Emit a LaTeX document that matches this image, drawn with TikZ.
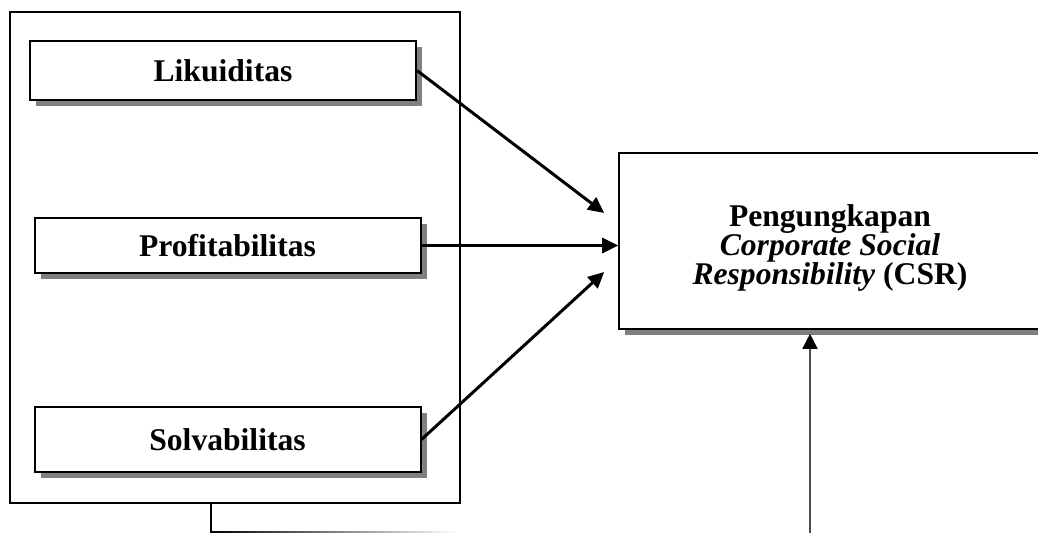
\documentclass[tikz,border=0pt]{standalone}
\usepackage{fontspec}
\setmainfont{Liberation Serif}
\usetikzlibrary{positioning, arrows.meta, fit, calc, shadows}
\newcommand{\csrfont}{\fontsize{15.8}{14.3}\selectfont\bfseries\lineskiplimit=-10pt\relax}

\begin{document}
\begin{tikzpicture}[
    x=0.5pt, y=-0.5pt,
    boxshadow/.style={drop shadow={shadow xshift=3pt, shadow yshift=-3pt, fill=black!50, opacity=1}},
    varbox/.style={rectangle, draw=black, line width=1pt, fill=white, minimum width=193pt, inner sep=0pt, font=\fontsize{15.8}{18}\selectfont\bfseries, boxshadow},
    depbox/.style={rectangle, draw=black, line width=0.8pt, fill=white, minimum width=211pt, minimum height=88pt, inner sep=0pt, boxshadow},
    csrtext/.style={align=center, font=\csrfont, inner sep=0pt},
    outerbox/.style={rectangle, draw=black, line width=0.8pt, inner sep=0pt},
    arrow/.style={-{Triangle[length=8pt,width=7.5pt]}, line width=1.5pt},
    thinarrow/.style={-{Triangle[length=7.5pt,width=7.5pt,color=black]}, draw=black!70, line width=0.75pt}
]
\useasboundingbox (0,0) rectangle (1038,533);

% Independent variables
\node[outerbox, fit={(10,12) (460,503)}] (grp) {};
\node[varbox, minimum height=29.5pt] (lik) at (223,70.5) {Likuiditas};
\node[varbox, minimum height=27.5pt, below=58pt of lik, xshift=2.25pt] (prof) {Profitabilitas};
\node[varbox, minimum height=32.5pt, below=66pt of prof] (solv) {Solvabilitas};

% Dependent variable
\node[depbox, label={[csrtext, yshift=-3.5pt]center:Pengungkapan\\\textit{Corporate Social}\\\textit{Responsibility} (CSR)}] (csr) at (830,241) {};

% Partial effects
\coordinate (inL) at ($(csr.west)+(-7pt,14pt)$);
\coordinate (inS) at ($(csr.west)+(-7pt,-15.5pt)$);
\draw[arrow] (lik.east) -- (inL);
\draw[arrow] (prof.east) -- (prof.east -| csr.west);
\draw[arrow] (solv.east) -- (inS);

% Simultaneous effect
\coordinate (tap) at ($(grp.south west)!0.447!(grp.south east)$);
\coordinate (turn) at ($(tap)+(0,-14.5pt)$);
\draw[line width=1.4pt] (tap) -- (turn);
\shade[left color=black, right color=white] ($(turn)+(0,0.4pt)$) rectangle ($(turn)+(123pt,-0.4pt)$);
\coordinate (foot) at ($(csr.south)+(-10pt,-102pt)$);
\draw[thinarrow, shorten >=2pt] (foot) -- (foot |- csr.south);

\end{tikzpicture}
\end{document}
